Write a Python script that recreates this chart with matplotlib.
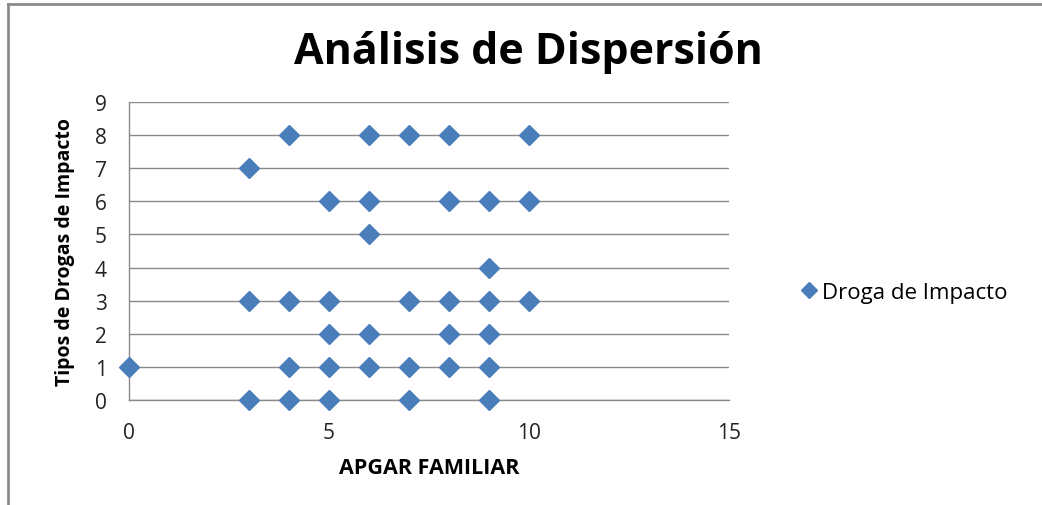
import matplotlib.pyplot as plt
from matplotlib.lines import Line2D

# Datos: APGAR familiar vs tipo de droga de impacto
apgar = [4, 6, 7, 8, 10,
         3,
         5, 6, 8, 9, 10,
         6,
         9,
         3, 4, 5, 7, 8, 9, 10,
         5, 6, 8, 9,
         0, 4, 5, 6, 7, 8, 9,
         3, 4, 5, 7, 9]
droga = [8, 8, 8, 8, 8,
         7,
         6, 6, 6, 6, 6,
         5,
         4,
         3, 3, 3, 3, 3, 3, 3,
         2, 2, 2, 2,
         1, 1, 1, 1, 1, 1, 1,
         0, 0, 0, 0, 0]
xticks = [0, 5, 10, 15]
yticks = list(range(10))

plt.rcParams['font.family'] = ['Open Sans', 'DejaVu Sans']
azul = '#4A7EBB'
gris = '#898989'

fig = plt.figure(figsize=(10.42, 5.06), dpi=100)
ax = fig.add_axes([129 / 1042, 105 / 506, 600 / 1042, 298 / 506])

ax.plot(apgar, droga, linestyle='none', marker='D', markersize=10.5,
        color=azul, label='Droga de Impacto', zorder=3, clip_on=False)

ax.set_xlim(0, 15)
ax.set_ylim(0, 9)
ax.set_xticks(xticks)
ax.set_yticks(yticks)
ax.tick_params(length=0, labelsize=15, colors='#222222')
ax.tick_params(axis='y', pad=16)
ax.tick_params(axis='x', pad=16)
ax.grid(axis='y', color=gris, linewidth=1)
for lado in ['top', 'right']:
    ax.spines[lado].set_visible(False)
for lado in ['left', 'bottom']:
    ax.spines[lado].set_color(gris)
    ax.spines[lado].set_linewidth(1)

ax.set_xlabel('APGAR FAMILIAR', fontsize=15.5, fontweight='bold', labelpad=10)
ax.set_ylabel('Tipos de Drogas de Impacto', fontsize=14, fontweight='bold',
              labelpad=14)

fig.text(528 / 1042, 1 - 53 / 506, 'Análisis de Dispersión', fontsize=31,
         fontweight='bold', ha='center', va='center')

fig.legend(handles=[Line2D([], [], linestyle='none', marker='D', markersize=8,
                           color=azul, label='Droga de Impacto')],
           loc='center left', bbox_to_anchor=(778 / 1042, 1 - 293 / 506),
           frameon=False, fontsize=16, handletextpad=0.1, handlelength=1)

# marco del área del gráfico (solo se ve arriba e izquierda)
fig.add_artist(Line2D([8 / 1042, 1], [1 - 5 / 506, 1 - 5 / 506],
                      transform=fig.transFigure, color='#8c8c8c', linewidth=2))
fig.add_artist(Line2D([8 / 1042, 8 / 1042], [0, 1 - 5 / 506],
                      transform=fig.transFigure, color='#8c8c8c', linewidth=2))

fig.savefig('out.png', dpi=100)
